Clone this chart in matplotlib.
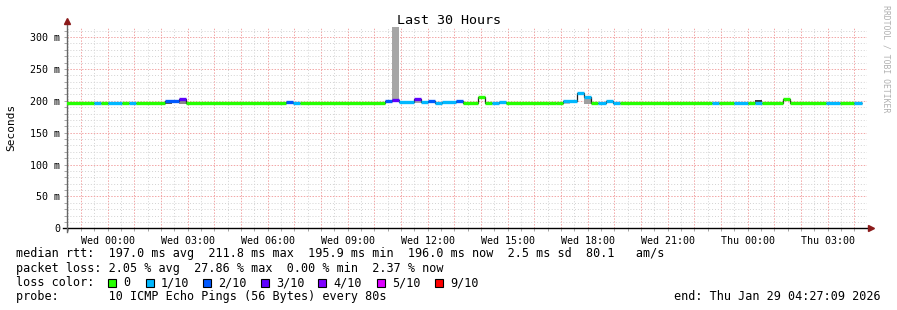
import numpy as np
import matplotlib
matplotlib.use("Agg")
import matplotlib.pyplot as plt
from matplotlib.ticker import MultipleLocator, FuncFormatter
from matplotlib.patches import Rectangle

plt.rcParams.update({"font.family": "DejaVu Sans Mono", "font.size": 7.2})

# median rtt runs: start minute (relative to Wed 00:00), median ms, pings lost of 10
RUN_START = [-96, -32, -16, 0, 32, 48, 64, 128, 160, 176, 400, 416, 432, 624, 640,
             656, 688, 704, 720, 736, 752, 784, 800, 832, 848, 864, 880, 896, 992,
             1008, 1024, 1056, 1072, 1088, 1104, 1120, 1136, 1152, 1360, 1376, 1408,
             1440, 1456, 1472, 1520, 1536, 1616, 1648, 1680]
RUN_END = 1696
MEDIAN = [197, 197, 197, 197, 197, 197, 197, 200.4, 202.8, 197, 198.5, 197, 197,
          200.4, 200.8, 197.6, 202.8, 197.6, 200.4, 195.9, 197.6, 199.0, 197, 205.9,
          197, 196.0, 198.5, 197, 196.0, 197, 200.4, 212.6, 206.4, 197, 196.2, 199.5,
          196.2, 197, 197, 197, 197, 197, 197, 197, 203.2, 197, 197, 197, 197]
LOSS = [0, 1, 0, 1, 0, 1, 0, 2, 3, 0, 2, 1, 0, 2, 3, 1, 3, 1, 2, 1, 1, 2, 0, 0, 0,
        1, 1, 0, 0, 0, 1, 1, 1, 0, 1, 1, 1, 0, 1, 0, 1, 0, 1, 0, 0, 0, 1, 0, 1]

# smoke (spread of the individual pings)
SMOKE_START = [128, 160, 624, 640, 688, 720, 1024, 1072, 1456]
SMOKE_END = [144, 176, 640, 656, 704, 736, 1040, 1088, 1472]
SMOKE_LO = [195.5, 195.5, 196, 198, 196, 196, 194.5, 195.5, 196]
SMOKE_HI = [199.5, 200, 199.5, 330, 199.5, 199.5, 199.5, 204.5, 201.8]
SMOKE_SHADE = ["#5a5a5a", "#8a8a8a", "#a0a0a0", "#a6a6a6", "#a8a8a8", "#707070",
               "#c4c4c4", "#a0a0a0", "#3a3a3a"]

LOSS_LEVELS = [0, 1, 2, 3, 4, 5, 9]
LOSS_LABELS = ["0", "1/10", "2/10", "3/10", "4/10", "5/10", "9/10"]
LOSS_COLORS = ["#26ff00", "#00b8ff", "#0059ff", "#5e00ff", "#7e00ff", "#dd00ff", "#ff0000"]
DAY_TICKS = ["Wed 00:00", "Wed 03:00", "Wed 06:00", "Wed 09:00", "Wed 12:00",
             "Wed 15:00", "Wed 18:00", "Wed 21:00", "Thu 00:00", "Thu 03:00"]

W, H = 897, 310
fig = plt.figure(figsize=(W / 100, H / 100), dpi=100)
fig.patch.set_facecolor("white")
ax = fig.add_axes([67.3 / W, (H - 228.3) / H, 800 / W, (228.3 - 27) / H])
ax.set_xlim(-91 / 60, (1800 - 91) / 60)
ax.set_ylim(0, 315.7)

# grid
ax.xaxis.set_major_locator(MultipleLocator(1))
ax.xaxis.set_minor_locator(MultipleLocator(0.5))
ax.yaxis.set_major_locator(MultipleLocator(50))
ax.yaxis.set_minor_locator(MultipleLocator(10))
ax.grid(which="minor", color="#d2d2d2", lw=0.7, ls=(0, (1, 2)), zorder=0)
ax.grid(which="major", color="#f2a6a6", lw=0.7, ls=(0, (1.5, 1.5)), zorder=0)
ax.set_axisbelow(True)

def xfmt(v, pos):
    h = int(round(v))
    if h % 3 == 0 and 0 <= h // 3 < len(DAY_TICKS):
        return DAY_TICKS[h // 3]
    return ""

ax.xaxis.set_major_formatter(FuncFormatter(xfmt))
ax.yaxis.set_major_formatter(FuncFormatter(lambda v, p: "0" if v == 0 else "%d m" % v))
ax.tick_params(axis="both", which="both", length=2, width=0.6, color="#999999")
ax.tick_params(axis="x", pad=3.5)
ax.tick_params(axis="y", pad=3)
for s in ax.spines.values():
    s.set_visible(False)

# axes lines with arrows
ax.plot([-0.006, 1.0], [0, 0], color="black", lw=1, transform=ax.transAxes, clip_on=False)
ax.plot([0, 0], [-0.02, 1.01], color="#666666", lw=1, transform=ax.transAxes, clip_on=False)
ax.plot(1.005, 0, marker=">", ms=4, color="#8b1a1a", transform=ax.transAxes, clip_on=False)
ax.plot(0, 1.03, marker="^", ms=4, color="#8b1a1a", transform=ax.transAxes, clip_on=False)

# smoke
s0 = np.array(SMOKE_START) / 60
s1 = np.array(SMOKE_END) / 60
lo = np.array(SMOKE_LO)
hi = np.array(SMOKE_HI)
ax.bar(s0, hi - lo, width=s1 - s0, bottom=lo, align="edge", color=SMOKE_SHADE,
       lw=0, zorder=1)

# median line: thin dark step plus loss-coloured segments
edges = np.array(RUN_START + [RUN_END]) / 60
med = np.array(MEDIAN)
ax.stairs(med, edges, color="#202020", lw=0.9, zorder=2, baseline=None)
cmap = dict(zip(LOSS_LEVELS, LOSS_COLORS))
ax.hlines(med, edges[:-1], edges[1:], colors=[cmap[l] for l in LOSS], lw=2.4,
          zorder=3, capstyle="butt")

def fx(px):
    return px / W

def fy(py):
    return 1 - py / H

fig.text(fx(448.5), fy(20), "Last 30 Hours", ha="center", va="center", fontsize=9.6)
fig.text(fx(11), fy(127.6), "Seconds", ha="center", va="center", rotation=90, fontsize=8)
fig.text(fx(886), fy(5), "RRDTOOL / TOBI OETIKER", ha="center", va="top",
         rotation=-90, fontsize=5.9, color="#b0b0b0")

LEG = 8.5
fig.text(fx(16), fy(254), "median rtt:  197.0 ms avg  211.8 ms max  195.9 ms min  "
         "196.0 ms now  2.5 ms sd  80.1   am/s", va="center", fontsize=LEG)
fig.text(fx(16), fy(268.3), "packet loss: 2.05 % avg  27.86 % max  0.00 % min  2.37 % now",
         va="center", fontsize=LEG)
fig.text(fx(16), fy(282.7), "loss color:", va="center", fontsize=LEG)
sq_x = [108, 146, 203, 261, 318, 377, 435]
for px, lab, col in zip(sq_x, LOSS_LABELS, LOSS_COLORS):
    fig.add_artist(Rectangle((fx(px), fy(287)), 8 / W, 8 / H, transform=fig.transFigure,
                             facecolor=col, edgecolor="black", lw=0.8))
    fig.text(fx(px + 15), fy(282.7), lab, va="center", fontsize=LEG)
fig.text(fx(16), fy(296.7), "probe:       10 ICMP Echo Pings (56 Bytes) every 80s",
         va="center", fontsize=LEG)
fig.text(fx(881), fy(296.7), "end: Thu Jan 29 04:27:09 2026", ha="right", va="center",
         fontsize=LEG)

fig.savefig("out.png", dpi=100)
